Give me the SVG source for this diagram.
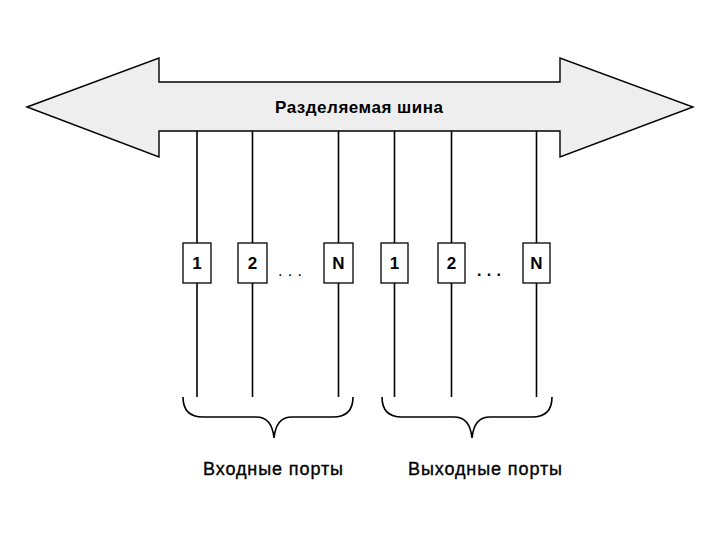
<svg xmlns="http://www.w3.org/2000/svg" width="720" height="540" viewBox="0 0 720 540">
<style>
.ln{stroke:#000;stroke-width:1.6;fill:none}
.box{fill:#fff;stroke:#000;stroke-width:1.3}
.t{font-family:"Liberation Sans",Arial,sans-serif;fill:#000}
.lbl{font-size:17px;font-weight:bold;text-anchor:middle}
.cap{font-size:18px;stroke:#000;stroke-width:0.35}
</style>
<rect width="720" height="540" fill="#fff"/>
<g id="connectors">
<line class="ln" x1="197" y1="131" x2="197" y2="397"/>
<line class="ln" x1="252.5" y1="131" x2="252.5" y2="397"/>
<line class="ln" x1="338.5" y1="131" x2="338.5" y2="397"/>
<line class="ln" x1="394.5" y1="131" x2="394.5" y2="397"/>
<line class="ln" x1="451.5" y1="131" x2="451.5" y2="397"/>
<line class="ln" x1="536.5" y1="131" x2="536.5" y2="397"/>
</g>
<g id="bus">
<path d="M27,107 L159,58 L159,82 L560,82 L560,58 L693,107 L560,157 L560,131 L159,131 L159,157 Z" fill="#eeeeee" stroke="#000" stroke-width="1.4" stroke-linejoin="miter"/>
<text class="t" x="275" y="113" font-size="17" font-weight="bold" textLength="168" lengthAdjust="spacing">Разделяемая шина</text>
</g>
<g id="in1"><rect class="box" x="183" y="243" width="28" height="40"/><text class="t lbl" x="197" y="269">1</text></g>
<g id="in2"><rect class="box" x="238" y="243" width="29" height="40"/><text class="t lbl" x="252.5" y="269">2</text></g>
<g id="inN"><rect class="box" x="324" y="243" width="29" height="40"/><text class="t lbl" x="338.5" y="269">N</text></g>
<g id="out1"><rect class="box" x="381" y="243" width="27" height="40"/><text class="t lbl" x="394.5" y="269">1</text></g>
<g id="out2"><rect class="box" x="438" y="243" width="27" height="40"/><text class="t lbl" x="451.5" y="269">2</text></g>
<g id="outN"><rect class="box" x="523" y="243" width="27" height="40"/><text class="t lbl" x="536.5" y="269">N</text></g>
<text class="t" x="278" y="276" font-size="16" textLength="24" lengthAdjust="spacing">...</text>
<text class="t" x="477" y="276" font-size="16" font-weight="bold" textLength="24" lengthAdjust="spacing">...</text>
<g id="brace-in">
<path class="ln" d="M183,397 Q183,417 203,417 L256,417 Q272,417 274,438 Q276,417 292,417 L333,417 Q353,417 353,397"/>
<text class="t cap" x="203" y="475" textLength="140" lengthAdjust="spacing">Входные порты</text>
</g>
<g id="brace-out">
<path class="ln" d="M382,397 Q382,417 402,417 L454,417 Q470,417 472,438 Q474,417 490,417 L532,417 Q552,417 552,397"/>
<text class="t cap" x="408" y="475" textLength="154" lengthAdjust="spacing">Выходные порты</text>
</g>
</svg>
